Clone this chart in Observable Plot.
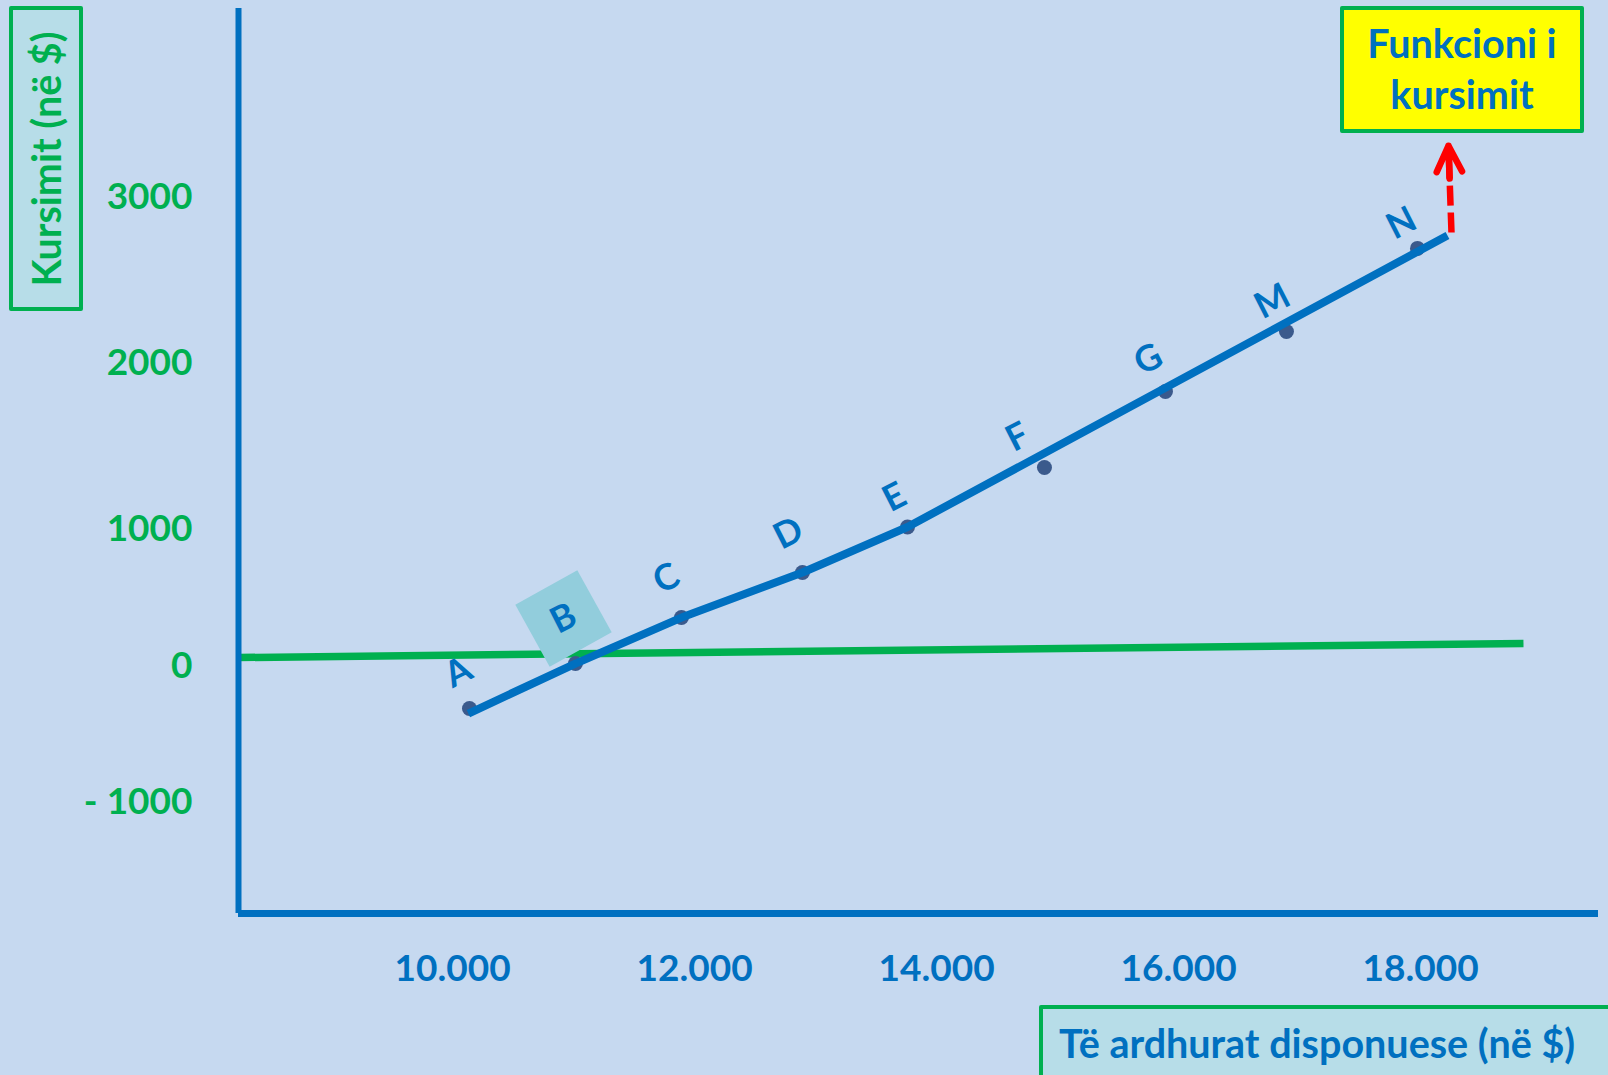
<!DOCTYPE html>
<html>
<head>
<meta charset="utf-8">
<script src="https://cdn.jsdelivr.net/npm/d3@7"></script>
<script src="https://cdn.jsdelivr.net/npm/@observablehq/plot@0.6"></script>
<style>
html, body { margin: 0; padding: 0; background: #C6D9F0; }
#wrap { position: relative; width: 1608px; height: 1075px; overflow: hidden; font-family: Lato, "Open Sans", sans-serif; font-weight: 700; }
#chart { position: absolute; left: 0; top: 0; }
.box { position: absolute; box-sizing: border-box; border: 4px solid #00B050; border-radius: 2px; }
#ylab { left: 9px; top: 6px; width: 74px; height: 305px; background: #B7DDE8; }
#ylab span { position: absolute; left: 50%; top: 50%; transform: translate(-50%, -50%) rotate(-90deg); white-space: nowrap; color: #00B050; font-size: 39.5px; line-height: 1; }
#xlab { left: 1039px; top: 1005px; width: 600px; height: 100px; background: #B7DDE8; }
#xlab span { position: absolute; left: 16px; top: 14px; white-space: nowrap; color: #0070C0; font-size: 39.5px; line-height: 1; }
#title { left: 1340px; top: 6px; width: 244px; height: 127px; background: #FFFF00; text-align: center; color: #0070C0; font-size: 39.5px; line-height: 51px; padding-top: 7px; }
</style>
</head>
<body>
<div id="wrap">
  <div id="chart"></div>
  <div class="box" id="ylab"><span>Kursimit (në $)</span></div>
  <div class="box" id="xlab"><span>Të ardhurat disponuese (në $)</span></div>
  <div class="box" id="title">Funkcioni i<br>kursimit</div>
</div>
<script>
// ---- data ----
const pointNames = ["A", "B", "C", "D", "E", "F", "G", "M", "N"];
const pointIncome = [10139, 11015, 11891, 12891, 13759, 14891, 15891, 16891, 17974];
const pointSaving = [-311, 18, 355, 685, 1015, 1374, 1832, 2193, 2694];

const labelIncome = [10048, 10916, 11767, 12775, 13651, 14668, 15751, 16775, 17842];
const labelSaving = [-48, 348, 641, 971, 1193, 1555, 2025, 2374, 2844];

const lineIncome = [10130, 11015, 11891, 12891, 13759, 18222];
const lineSaving = [-348, 18, 355, 685, 1015, 2772];

const zeroLineIncome = [8230, 18850];
const zeroLineSaving = [62, 165];

const arrowIncome = [18255, 18230];
const arrowSaving = [2790, 3313];

const xTicks = [10000, 12000, 14000, 16000, 18000];
const xTickLabels = ["10.000", "12.000", "14.000", "16.000", "18.000"];
const yTicks = [-1000, 0, 1000, 2000, 3000];
const yTickLabels = ["- 1000", "0", "1000", "2000", "3000"];

const xDomain = [8230, 19470];
const yDomain = [-1813, 1000, 4140];

// ---- tables built from the arrays ----
const points = pointNames.map((n, i) => ({name: n, x: pointIncome[i], y: pointSaving[i], lx: labelIncome[i], ly: labelSaving[i]}));
const savingLine = lineIncome.map((x, i) => ({x, y: lineSaving[i]}));
const zeroLine = zeroLineIncome.map((x, i) => ({x, y: zeroLineSaving[i]}));
const arrow = [{x1: arrowIncome[0], x2: arrowIncome[1], y1: arrowSaving[0], y2: arrowSaving[1]}];
const xLabelMap = new Map(xTicks.map((t, i) => [t, xTickLabels[i]]));
const yLabelMap = new Map(yTicks.map((t, i) => [t, yTickLabels[i]]));

const BLUE = "#0070C0", GREEN = "#00B050";

const chart = Plot.plot({
  width: 1608,
  height: 1075,
  marginLeft: 238,
  marginRight: 10,
  marginTop: 8,
  marginBottom: 162,
  style: {background: "#C6D9F0", fontFamily: "Lato, 'Open Sans', sans-serif", overflow: "visible"},
  x: {type: "linear", domain: xDomain},
  y: {type: "linear", domain: yDomain, range: [913, 529, 8]},
  marks: [
    Plot.line(zeroLine, {x: "x", y: "y", stroke: GREEN, strokeWidth: 7.5, strokeLinecap: "butt"}),
    Plot.dot([points[1]], {x: "lx", y: "ly", symbol: "square", r: 40, fill: "#92CDDC", rotate: -29}),
    Plot.dot(points, {x: "x", y: "y", r: 7.5, fill: "#3B5A8C"}),
    Plot.line(savingLine, {x: "x", y: "y", stroke: BLUE, strokeWidth: 8, strokeLinecap: "butt", strokeLinejoin: "round"}),
    Plot.text(points, {x: "lx", y: "ly", text: "name", rotate: -27, fontSize: 36, fontWeight: "bold", fill: BLUE}),
    Plot.link(arrow, {x1: "x1", y1: "y1", x2: "x2", y2: "y2", stroke: "#FF0000", strokeWidth: 6.5, strokeDasharray: "20,7"}),
    Plot.arrow(arrow, {x1: "x1", y1: "y1", x2: "x2", y2: "y2", stroke: "#FF0000", strokeWidth: 6.5, headAngle: 52, headLength: 7, insetStart: 54}),
    Plot.ruleX([xDomain[0]], {stroke: BLUE, strokeWidth: 6}),
    Plot.ruleY([yDomain[0]], {stroke: BLUE, strokeWidth: 7}),
    Plot.axisX(xTicks, {anchor: "bottom", tickSize: 0, tickPadding: 41, fontSize: 37, fontWeight: "bold", color: BLUE, tickFormat: d => xLabelMap.get(d), label: null}),
    Plot.axisY(yTicks, {anchor: "left", tickSize: 0, tickPadding: 46, fontSize: 37, fontWeight: "bold", color: GREEN, tickFormat: d => yLabelMap.get(d), label: null})
  ]
});
document.getElementById("chart").appendChild(chart);
</script>
</body>
</html>
